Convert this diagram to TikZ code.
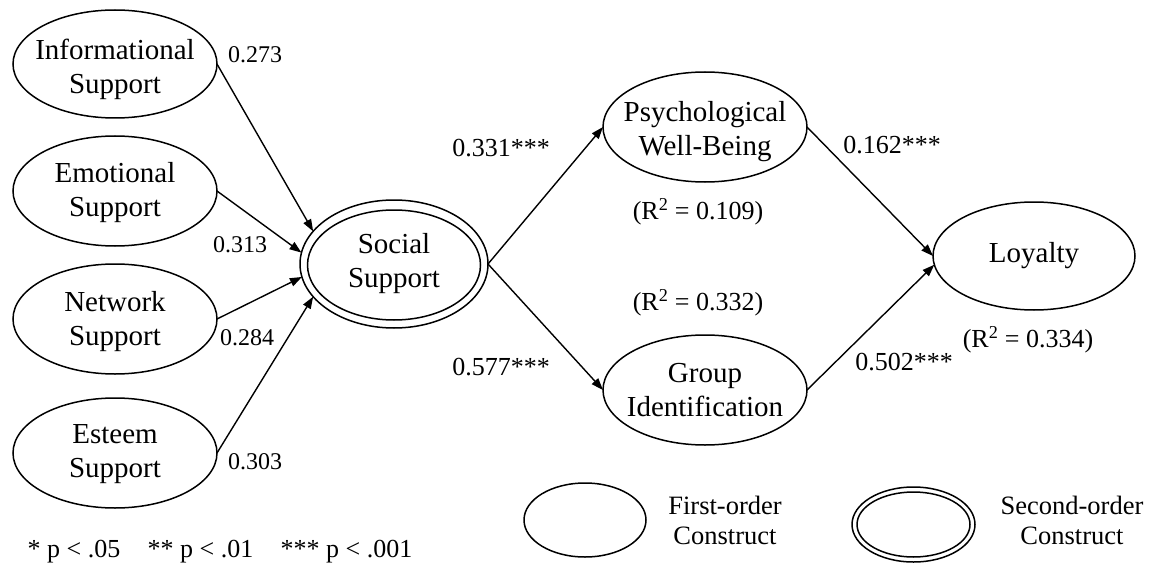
\documentclass[tikz,border=0pt]{standalone}
\usepackage{fontspec}
\setmainfont{Liberation Serif}
\usetikzlibrary{shapes.geometric,arrows.meta}
\tikzset{
  cons/.style={draw, ellipse, line width=1.5pt, inner sep=0pt, outer sep=0pt},
  ctext/.style={align=center, inner sep=0pt, font=\fontsize{29}{34}\selectfont},
  lbl/.style={inner sep=0pt, font=\fontsize{24}{28}\selectfont},
  coef/.style={inner sep=0pt, font=\fontsize{26}{30}\selectfont},
  leg/.style={align=center, inner sep=0pt, font=\fontsize{26.5}{30}\selectfont},
  arr/.style={line width=1.4pt, -{Triangle[length=12pt,width=8.5pt]}}
}
\begin{document}
\begin{tikzpicture}[x=1pt,y=-1pt]
\useasboundingbox (0,0) rectangle (1153,567);
% first-order constructs (left)
\node[cons, minimum width=204pt, minimum height=108pt] (info) at (115,64) {};
\node[ctext] (infot) at ([yshift=-5pt]info.center) {Informational\\Support};
\node[cons, minimum width=204pt, minimum height=110pt] (emo) at (115,191) {};
\node[ctext] (emot) at ([yshift=-2pt]emo.center) {Emotional\\Support};
\node[cons, minimum width=204pt, minimum height=110pt] (net) at (115,319) {};
\node[ctext] (nett) at ([yshift=-3pt]net.center) {Network\\Support};
\node[cons, minimum width=204pt, minimum height=110pt] (est) at (115,453) {};
\node[ctext] (estt) at ([yshift=-1pt]est.center) {Esteem\\Support};
% second-order construct
\node[cons, minimum width=188pt, minimum height=128pt] (ss) at (394,264) {};
\node[cons, minimum width=173pt, minimum height=110pt] (ssin) at (394,265) {};
\node[ctext] (sst) at (ss.center) {Social\\Support};
% outcomes
\node[cons, minimum width=204pt, minimum height=110pt] (pwb) at (705,127) {};
\node[ctext] (pwbt) at ([yshift=-5pt]pwb.center) {Psychological\\Well-Being};
\node[cons, minimum width=204pt, minimum height=110pt] (gid) at (705,390) {};
\node[ctext] (gidt) at (gid.center) {Group\\Identification};
\node[cons, minimum width=202pt, minimum height=108pt] (loy) at (1034,256) {};
\node[ctext] (loyt) at (loy.center) {Loyalty};
% arrows
\draw[arr] (info.east) -- (ss.158);
\draw[arr] (emo.east) -- (ss.173);
\draw[arr] (net.east) -- (ss.188);
\draw[arr] (est.east) -- (ss.202);
\draw[arr] (ss.east) -- (pwb.west);
\draw[arr] (ss.east) -- (gid.west);
\draw[arr] (pwb.east) -- (loy.west);
\draw[arr] (gid.east) -- (loy.185);
% labels
\node[lbl] (l1) at (255,55) {0.273};
\node[lbl] (l2) at (240,245) {0.313};
\node[lbl] (l3) at (247,338) {0.284};
\node[lbl] (l4) at (255,462) {0.303};
\node[coef] (c1) at (501,148) {0.331***};
\node[coef] (c2) at (501,367) {0.577***};
\node[coef] (c3) at (892,145) {0.162***};
\node[coef] (c4) at (904,362) {0.502***};
\node[coef] (r1) at (698,212) {(R\textsuperscript{2} = 0.109)};
\node[coef] (r2) at (698,303) {(R\textsuperscript{2} = 0.332)};
\node[coef] (r3) at (1028,340) {(R\textsuperscript{2} = 0.334)};
% legend
\node[coef] (sig) at (220,552) {* p < .05\hspace{0.8em} ** p < .01\hspace{0.8em} *** p < .001};
\node[cons, minimum width=122pt, minimum height=74pt] (leg1) at (585,520) {};
\node[leg] (leg1t) at (725,520) {First-order\\Construct};
\node[cons, minimum width=123pt, minimum height=75pt] (leg2) at (913.5,524.5) {};
\node[cons, minimum width=113pt, minimum height=65pt] (leg2in) at (913.5,524.5) {};
\node[leg] (leg2t) at (1072,520) {Second-order\\Construct};
\end{tikzpicture}
\end{document}
